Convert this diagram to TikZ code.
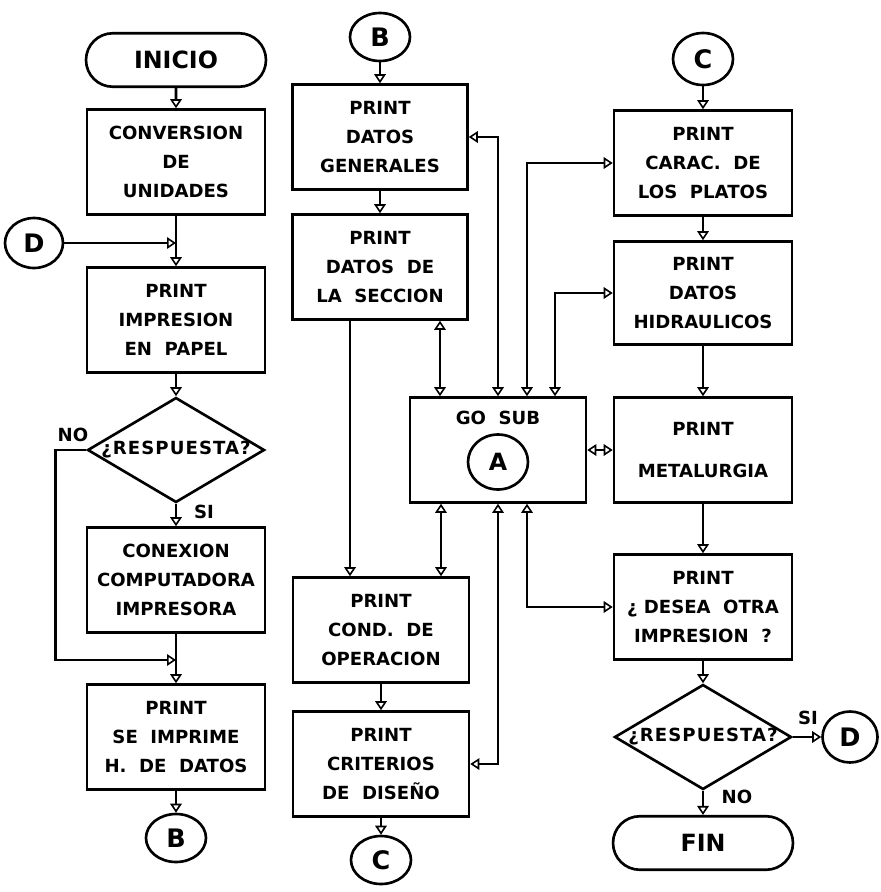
\documentclass[tikz,border=0pt]{standalone}
\usepackage{fontspec}
\setmainfont{DejaVu Sans}
\usetikzlibrary{arrows.meta,shapes.geometric,shapes.misc}
\begin{document}
\begin{tikzpicture}[x=0.02cm,y=-0.02cm,
  line width=1.5pt,
  >={Triangle[open,length=1.8mm,width=2.3mm,line width=0.9pt]},
  every node/.style={font=\bfseries\fontsize{10.3}{16.5}\selectfont},
  stepbox/.style={draw,rectangle,minimum width=3.56cm,minimum height=2.1cm,inner sep=0pt,align=center},
  term/.style={draw,rounded rectangle,minimum width=3.6cm,minimum height=1.07cm,inner sep=0pt,font=\bfseries\fontsize{13.5}{16}\selectfont},
  conn/.style={draw,ellipse,minimum width=1.2cm,minimum height=0.96cm,inner sep=0pt,font=\bfseries\fontsize{14.5}{16}\selectfont},
  decision/.style={draw,diamond,minimum width=3.54cm,minimum height=2.1cm,inner sep=0pt},
  lbl/.style={inner sep=0pt},
  qtext/.style={inner sep=0pt,font=\bfseries\fontsize{10.3}{13}\selectfont\addfontfeature{LetterSpace=6}}
]
\useasboundingbox (0,0) rectangle (880,892);

% ---- column 1
\node[term] (inicio) at (176,60) {INICIO};
\node[stepbox] (conv) at (176,162) {CONVERSION\\DE\\UNIDADES};
\node[conn,minimum width=1.16cm,minimum height=1.0cm] (dL) at (34,243) {D};
\coordinate (j0) at (176,243);
\node[stepbox] (imp) at (176,320) {PRINT\\IMPRESION\\EN\ \ PAPEL};
\node[decision] (q1) at (176,450) {};
\node[qtext] (q1t) at (q1.center) {¿RESPUESTA?};
\node[lbl] (q1no) at (73,435) {NO};
\node[lbl] (q1si) at (204,512) {SI};
\node[stepbox] (conex) at (176,580) {CONEXION\\COMPUTADORA\\IMPRESORA};
\coordinate (j1) at (176,660);
\node[stepbox] (seimp) at (176,737) {PRINT\\SE\ \ IMPRIME\\H.\ \ DE\ \ DATOS};
\node[conn] (bB) at (176,838) {B};

% ---- column 2
\node[conn] (bT) at (380,37) {B};
\node[stepbox,minimum width=3.5cm] (gen) at (380,137) {PRINT\\DATOS\\GENERALES};
\node[stepbox,minimum width=3.5cm] (sec) at (380,267) {PRINT\\DATOS\ \ DE\\LA\ \ SECCION};
\node[stepbox,minimum width=3.52cm] (gosub) at (498,450) {};
\node (gosubt) at (498,418) {GO\ \ SUB};
\node[conn,minimum width=1.2cm,minimum height=1.1cm,font=\bfseries\fontsize{13.5}{16}\selectfont] (a) at (498,462) {A};
\node[stepbox,minimum width=3.52cm] (cond) at (381,630) {PRINT\\COND.\ \ DE\\OPERACION};
\node[stepbox,minimum width=3.52cm] (crit) at (381,764) {PRINT\\CRITERIOS\\DE\ \ DISEÑO};
\node[conn] (cB) at (381,860) {C};

% ---- column 3
\node[conn,minimum height=1.04cm] (cT) at (703,59) {C};
\node[stepbox] (carac) at (703,163) {PRINT\\CARAC.\ \ DE\\LOS\ \ PLATOS};
\node[stepbox,minimum height=2.06cm] (hidr) at (703,293) {PRINT\\DATOS\\HIDRAULICOS};
\node[stepbox] (metal) at (703,450) {PRINT\\[7pt]METALURGIA};
\node[stepbox] (desea) at (703,607) {PRINT\\¿\ DESEA\ \ OTRA\\IMPRESION\ \ ?};
\node[decision] (q2) at (703,737) {};
\node[qtext] (q2t) at (q2.center) {¿RESPUESTA?};
\node[lbl] (q2si) at (808,718) {SI};
\node[lbl] (q2no) at (737,797) {NO};
\node[conn,minimum width=1.1cm,minimum height=1.02cm] (dR) at (850,737) {D};
\node[term] (fin) at (703,843) {FIN};

% ---- connectors column 1
\draw[->] (inicio) -- (conv);
\draw[->] (conv.south) -- (imp.north);
\draw[->] (dL.east) -- (j0);
\draw[->] (imp) -- (q1);
\draw[->] (q1) -- (conex);
\draw[->] (conex) -- (seimp);
\draw[->] (q1.west) -- ++(-0.62cm,0) |- (j1);
\draw[->] (seimp) -- (bB);

% ---- connectors column 2
\draw[->] (bT) -- (gen);
\draw[->] (gen) -- (sec);
\draw[->] ([xshift=-0.6cm]sec.south) -- ([xshift=-0.6cm]sec.south |- cond.north);
\draw[->] (cond) -- (crit);
\draw[->] (crit) -- (cB);
\draw[<->] ([xshift=1.2cm]sec.south) -- ([xshift=1.2cm]sec.south |- gosub.north);
\draw[<->] (gosub.north) |- (gen.east);
\draw[<->] ([xshift=0.58cm]gosub.north) |- (carac.west);
\draw[<->] ([xshift=1.14cm]gosub.north) |- (hidr.west);
\draw[<->] (gosub.east) -- (metal.west);
\draw[<->] ([xshift=1.2cm]cond.north) -- ([xshift=1.2cm]cond.north |- gosub.south);
\draw[<->] (gosub.south) |- (crit.east);
\draw[<->] ([xshift=0.58cm]gosub.south) |- (desea.west);

% ---- connectors column 3
\draw[->] (cT) -- (carac);
\draw[->] (carac) -- (hidr);
\draw[->] (hidr) -- (metal);
\draw[->] (metal) -- (desea);
\draw[->] (desea) -- (q2);
\draw[->] (q2.east) -- (dR.west);
\draw[->] (q2.south) -- (fin.north);
\end{tikzpicture}
\end{document}
